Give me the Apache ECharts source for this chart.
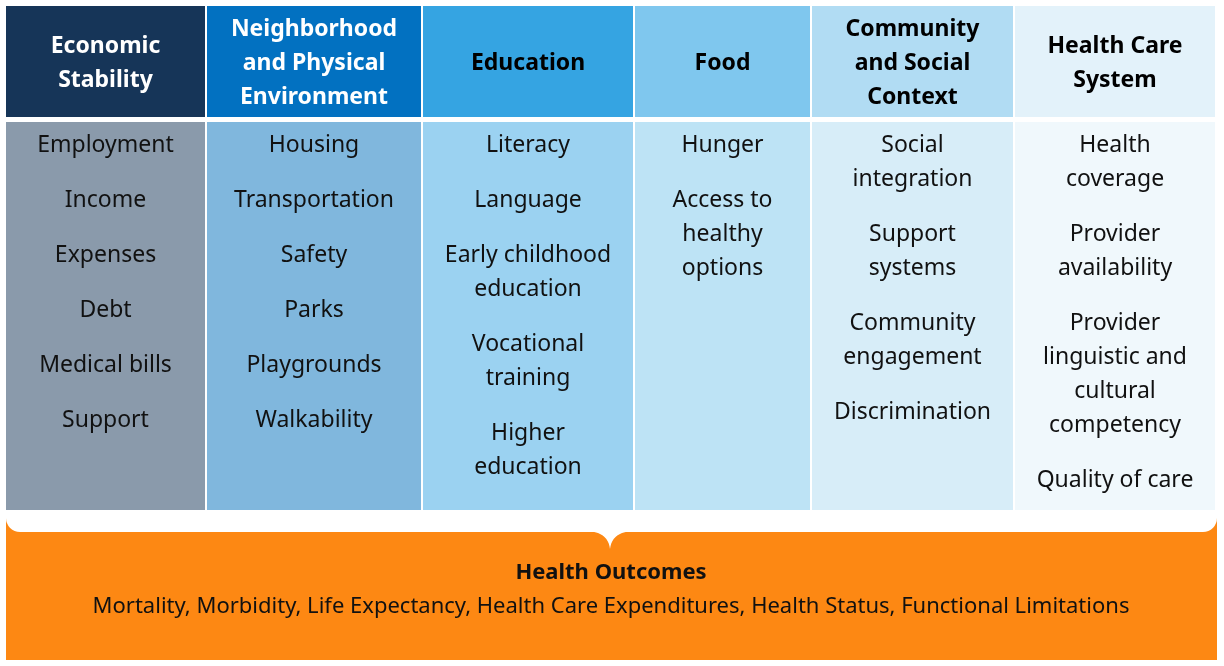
<!DOCTYPE html>
<html>
<head>
<meta charset="utf-8">
<script src="https://cdn.jsdelivr.net/npm/echarts@6/dist/echarts.min.js"></script>
<style>html,body{margin:0;padding:0;background:#fff}#chart{width:1224px;height:666px}</style>
</head>
<body>
<div id="chart"></div>
<script>
var headers = ['Economic\nStability', 'Neighborhood\nand Physical\nEnvironment', 'Education', 'Food', 'Community\nand Social\nContext', 'Health Care\nSystem'];
var items = [
    ['Employment', 'Income', 'Expenses', 'Debt', 'Medical bills', 'Support'],
    ['Housing', 'Transportation', 'Safety', 'Parks', 'Playgrounds', 'Walkability'],
    ['Literacy', 'Language', 'Early childhood\neducation', 'Vocational\ntraining', 'Higher\neducation'],
    ['Hunger', 'Access to\nhealthy\noptions'],
    ['Social\nintegration', 'Support\nsystems', 'Community\nengagement', 'Discrimination'],
    ['Health\ncoverage', 'Provider\navailability', 'Provider\nlinguistic and\ncultural\ncompetency', 'Quality of care']
];
var outcomeTitle = 'Health Outcomes';
var outcomes = 'Mortality, Morbidity, Life Expectancy, Health Care Expenditures, Health Status, Functional Limitations';

// layout
var colX = [6, 207, 423, 635, 812, 1015, 1217];
var headColors = ['#163558', '#0271c1', '#35a4e2', '#7fc7ee', '#b1dcf3', '#e3f2fa'];
var headText = ['#fff', '#fff', '#000', '#000', '#000', '#000'];
var bodyColors = ['#8a9aab', '#80b7dd', '#9bd2f1', '#bde3f5', '#d7edf8', '#f0f8fc'];
var font = '"Noto Sans", sans-serif';
var lineH = 34;

var graphic = [];
headers.forEach(function (h, i) {
    var x0 = colX[i], w = colX[i + 1] - colX[i] - 2;
    graphic.push({ type: 'rect', shape: { x: x0, y: 6, width: w, height: 111 }, style: { fill: headColors[i] } });
    graphic.push({ type: 'rect', shape: { x: x0, y: 122, width: w, height: 392 }, style: { fill: bodyColors[i] } });
    graphic.push({ type: 'text', x: x0 + w / 2, y: 63, style: {
        text: h, fill: headText[i], font: 'bold 23px ' + font, lineHeight: 34,
        align: 'center', verticalAlign: 'middle' } });
    var y = 145;
    items[i].forEach(function (t) {
        var n = t.split('\n').length;
        graphic.push({ type: 'text', x: x0 + w / 2, y: y - lineH / 2, style: {
            text: t, fill: '#111', font: '23px ' + font, lineHeight: lineH,
            align: 'center', verticalAlign: 'top' } });
        y += (n - 1) * lineH + 55;
    });
});

// brace point under the white band
function quad(p0, p1, p2, steps) {
    var pts = [];
    for (var k = 0; k <= steps; k++) {
        var t = k / steps, u = 1 - t;
        pts.push([u * u * p0[0] + 2 * u * t * p1[0] + t * t * p2[0], u * u * p0[1] + 2 * u * t * p1[1] + t * t * p2[1]]);
    }
    return pts;
}
var bracePts = quad([585, 531], [608, 531], [610, 549], 12).concat(quad([610, 549], [612, 531], [635, 531], 12));

graphic.push({ type: 'rect', shape: { x: 6, y: 514, width: 1211, height: 146 }, style: { fill: '#fd8813' } });
graphic.push({ type: 'rect', shape: { x: 6, y: 510, width: 1211, height: 22, r: [0, 0, 14, 14] }, style: { fill: '#fff' } });
graphic.push({ type: 'polygon', shape: { points: bracePts }, style: { fill: '#fff' } });
graphic.push({ type: 'rect', shape: { x: 6, y: 510, width: 1211, height: 4 }, style: { fill: '#fff' } });
graphic.push({ type: 'text', x: 611, y: 573, style: { text: outcomeTitle, fill: '#111', font: 'bold 22px ' + font, align: 'center', verticalAlign: 'middle' } });
graphic.push({ type: 'text', x: 611, y: 607, style: { text: outcomes, fill: '#111', font: '22px ' + font, align: 'center', verticalAlign: 'middle' } });

var myChart = echarts.init(document.getElementById('chart'));
myChart.setOption({ animation: false, graphic: graphic });
</script>
</body>
</html>
